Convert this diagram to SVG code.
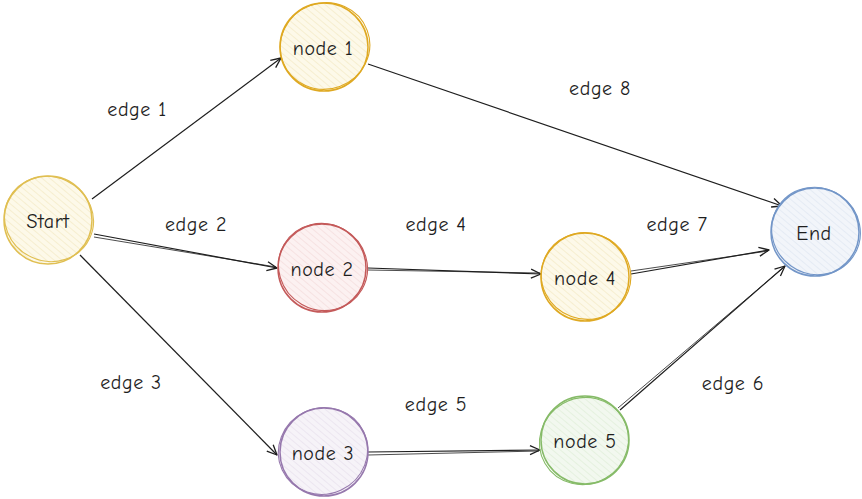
<svg xmlns="http://www.w3.org/2000/svg" width="862" height="499" viewBox="0 0 862 499">
<defs>
<marker id="arr" viewBox="0 0 12 12" refX="11" refY="6" markerWidth="12" markerHeight="12" markerUnits="userSpaceOnUse" orient="auto">
<path d="M1,1.5 L11,6 L1,10.5" fill="none" stroke="#1e1e1e" stroke-width="1.3" stroke-linejoin="round"/>
</marker>
<pattern id="hY" patternUnits="userSpaceOnUse" width="5" height="5" patternTransform="rotate(-50)"><rect width="5" height="5" fill="#fdf9e9"/><line x1="0" y1="0" x2="0" y2="5" stroke="#efe3b8" stroke-width="1"/></pattern>
<pattern id="hR" patternUnits="userSpaceOnUse" width="5" height="5" patternTransform="rotate(-50)"><rect width="5" height="5" fill="#fcf1f1"/><line x1="0" y1="0" x2="0" y2="5" stroke="#f0d4d4" stroke-width="1"/></pattern>
<pattern id="hB" patternUnits="userSpaceOnUse" width="5" height="5" patternTransform="rotate(-50)"><rect width="5" height="5" fill="#f2f5fa"/><line x1="0" y1="0" x2="0" y2="5" stroke="#d9e2ef" stroke-width="1"/></pattern>
<pattern id="hP" patternUnits="userSpaceOnUse" width="5" height="5" patternTransform="rotate(-50)"><rect width="5" height="5" fill="#f6f3f8"/><line x1="0" y1="0" x2="0" y2="5" stroke="#e2d9e8" stroke-width="1"/></pattern>
<pattern id="hG" patternUnits="userSpaceOnUse" width="5" height="5" patternTransform="rotate(-50)"><rect width="5" height="5" fill="#f2f8ef"/><line x1="0" y1="0" x2="0" y2="5" stroke="#d9eacf" stroke-width="1"/></pattern>
</defs>
<style>
.lbl{font-family:"Comic Neue","Noto Sans","Liberation Sans",sans-serif;font-size:20px;letter-spacing:0.6px;fill:#1e1e1e;text-anchor:middle;dominant-baseline:central}
.c{stroke-width:1.5}
.c2{fill:none;stroke-width:1.1}
.e{fill:none;stroke:#1e1e1e;stroke-width:1.2;marker-end:url(#arr)}
.e2{fill:none;stroke:#1e1e1e;stroke-width:0.8}
.yl{stroke:#e0bf52}
.gd{stroke:#dfa922}
.rd{stroke:#c45a5a}
.bl{stroke:#7396c8}
.pu{stroke:#9678ad}
.gr{stroke:#86bb68}
</style>
<rect width="862" height="499" fill="#ffffff"/>
<g id="connectors">
<path class="e" d="M92,199 L281,58"/>
<path class="e" d="M94,234 L277,268"/>
<path class="e2" d="M94,237 L276,267"/>
<path class="e" d="M80,255 L277,455"/>
<path class="e" d="M368,268 L541,274"/>
<path class="e2" d="M368,270 L540,273"/>
<path class="e" d="M368,452 L540,450"/>
<path class="e2" d="M368,455 L539,451"/>
<path class="e" d="M620,410 L785,266"/>
<path class="e2" d="M618,408 L783,268"/>
<path class="e" d="M631,274 L769,250"/>
<path class="e2" d="M631,271 L768,251"/>
<path class="e" d="M368,64 L782,206"/>
<text class="lbl" x="137" y="109">edge 1</text>
<text class="lbl" x="196" y="224">edge 2</text>
<text class="lbl" x="131" y="382">edge 3</text>
<text class="lbl" x="436" y="224">edge 4</text>
<text class="lbl" x="436" y="404">edge 5</text>
<text class="lbl" x="733" y="383">edge 6</text>
<text class="lbl" x="677" y="224">edge 7</text>
<text class="lbl" x="600" y="88">edge 8</text>
</g>
<g id="start">
<circle class="c yl" cx="48" cy="220" r="44" fill="url(#hY)"/>
<ellipse class="c2 yl" cx="49" cy="219" rx="45" ry="42" transform="rotate(25 49 219)"/>
<text class="lbl" x="48" y="221">Start</text>
</g>
<g id="node1">
<circle class="c gd" cx="324" cy="47" r="44" fill="url(#hY)"/>
<ellipse class="c2 gd" cx="325" cy="46" rx="45" ry="43" transform="rotate(-20 325 46)"/>
<text class="lbl" x="323" y="48">node 1</text>
</g>
<g id="node2">
<circle class="c rd" cx="322" cy="268" r="44" fill="url(#hR)"/>
<ellipse class="c2 rd" cx="323" cy="267" rx="45" ry="43" transform="rotate(30 323 267)"/>
<text class="lbl" x="322" y="269">node 2</text>
</g>
<g id="node3">
<circle class="c pu" cx="324" cy="452" r="44" fill="url(#hP)"/>
<ellipse class="c2 pu" cx="323" cy="451" rx="45" ry="43" transform="rotate(-25 323 451)"/>
<text class="lbl" x="323" y="453">node 3</text>
</g>
<g id="node4">
<circle class="c gd" cx="585" cy="277" r="44" fill="url(#hY)"/>
<ellipse class="c2 gd" cx="586" cy="276" rx="45" ry="43" transform="rotate(20 586 276)"/>
<text class="lbl" x="585" y="278">node 4</text>
</g>
<g id="node5">
<circle class="c gr" cx="585" cy="440" r="44" fill="url(#hG)"/>
<ellipse class="c2 gr" cx="584" cy="441" rx="45" ry="43" transform="rotate(-30 584 441)"/>
<text class="lbl" x="585" y="441">node 5</text>
</g>
<g id="end">
<circle class="c bl" cx="815" cy="232" r="44" fill="url(#hB)"/>
<ellipse class="c2 bl" cx="816" cy="231" rx="45" ry="43" transform="rotate(35 816 231)"/>
<text class="lbl" x="814" y="233">End</text>
</g>
</svg>
